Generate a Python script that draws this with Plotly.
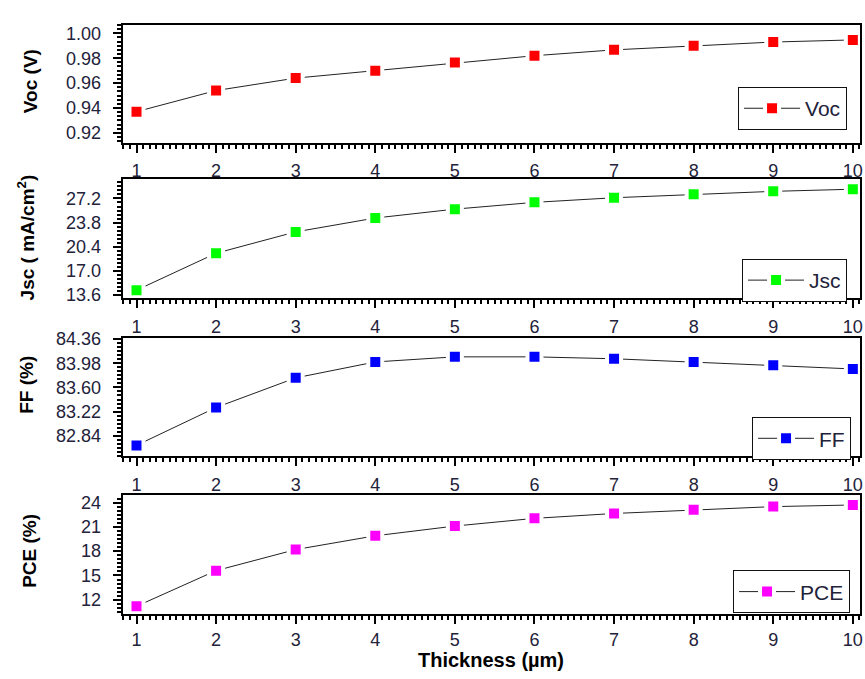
import plotly.graph_objects as go

# Device performance versus absorber thickness
thickness = [1, 2, 3, 4, 5, 6, 7, 8, 9, 10]
voc = [0.937, 0.954, 0.964, 0.970, 0.9765, 0.982, 0.9867, 0.990, 0.993, 0.9947]
jsc = [14.3, 19.5, 22.5, 24.45, 25.7, 26.65, 27.3, 27.8, 28.2, 28.5]
ff = [82.69, 83.285, 83.75, 84.00, 84.08, 84.08, 84.05, 84.00, 83.95, 83.89]
pce = [11.2, 15.6, 18.2, 19.9, 21.1, 22.05, 22.65, 23.1, 23.5, 23.7]

series_names = ["Voc", "Jsc", "FF", "PCE"]
series_values = [voc, jsc, ff, pce]
series_colors = ["#ff0000", "#00ff00", "#0000ff", "#ff00ff"]
y_titles = ["Voc (V)", "Jsc ( mA/cm<sup>2</sup>)", "FF (%)", "PCE (%)"]

# tick definitions per panel: (tick0, dtick, format, range)
y_ticks = [
    (0.92, 0.02, ".2f", [0.912, 1.007]),
    (13.6, 3.4, ".1f", [13.2, 29.95]),
    (82.84, 0.38, ".2f", [82.52, 84.375]),
    (12, 3, "d", [10.2, 24.9]),
]

W, H = 865, 679
x_px = (123, 863)
panel_px = [(16, 137), (174, 296), (337, 458), (498, 620)]
legend_px = [(850, 80), (850, 256), (854, 418), (853, 575)]
ytitle_px = [(30, 74), (27, 234), (27, 385), (30, 555)]

FONT = "Liberation Sans, Arial, sans-serif"
TICK_COLOR = "#22223a"

fig = go.Figure()
layout = dict(
    width=W, height=H,
    margin=dict(l=0, r=0, t=0, b=0),
    paper_bgcolor="white", plot_bgcolor="white",
    font=dict(family=FONT, color=TICK_COLOR),
    showlegend=True,
    annotations=[],
)

for i, (name, vals, col) in enumerate(zip(series_names, series_values, series_colors)):
    n = "" if i == 0 else str(i + 1)
    leg = "legend" + n
    fig.add_trace(go.Scatter(
        x=thickness, y=vals, name=name,
        mode="lines+markers",
        line=dict(color="#222222", width=1),
        marker=dict(symbol="square", size=14, color=col,
                    line=dict(color="white", width=4)),
        xaxis="x" + n, yaxis="y" + n, legend=leg, showlegend=True,
    ))
    top, bot = panel_px[i]
    dom_y = [1 - bot / H, 1 - top / H]
    axis_common = dict(
        showline=True, linecolor="black", linewidth=2, mirror=True,
        ticks="outside", ticklen=8, tickwidth=2, tickcolor="black",
        showgrid=False, zeroline=False,
        tickfont=dict(family=FONT, size=18, color=TICK_COLOR),
        ticklabeloverflow="allow",
    )
    layout["xaxis" + n] = dict(
        domain=[x_px[0] / W, x_px[1] / W],
        anchor="y" + n,
        range=[0.825, 10.09],
        tick0=1, dtick=1,
        ticklabelstandoff=3 if i < 3 else 0,
        minor=dict(dtick=1 / 12, ticks="outside", ticklen=4, tickwidth=1.5,
                   tickcolor="black", showgrid=False),
        **axis_common,
    )
    t0, dt, fmt, rng = y_ticks[i]
    layout["yaxis" + n] = dict(
        domain=dom_y,
        anchor="x" + n,
        range=rng,
        tick0=t0, dtick=dt, tickformat=fmt,
        ticklabelstandoff=8,
        minor=dict(dtick=dt / 6, ticks="outside", ticklen=4, tickwidth=1.5,
                   tickcolor="black", showgrid=False),
        **axis_common,
    )
    lx, ly = legend_px[i]
    layout[leg] = dict(
        x=lx / W, y=1 - ly / H, xanchor="right", yanchor="top",
        xref="paper", yref="paper",
        bordercolor="#111111", borderwidth=1, bgcolor="white",
        font=dict(family=FONT, size=21, color=TICK_COLOR),
        itemwidth=56, tracegroupgap=0,
    )
    tx, ty = ytitle_px[i]
    layout["annotations"].append(dict(
        text="<b>" + y_titles[i] + "</b>",
        x=tx / W, y=1 - ty / H, xref="paper", yref="paper",
        xanchor="center", yanchor="middle", textangle=-90, showarrow=False,
        font=dict(family=FONT, size=19, color="black"),
    ))

layout["annotations"].append(dict(
    text="<b>Thickness (µm)</b>",
    x=(x_px[0] + x_px[1]) / 2 / W, y=0, xref="paper", yref="paper",
    xanchor="center", yanchor="bottom", showarrow=False, borderpad=0,
    font=dict(family=FONT, size=20, color="black"),
))

fig.update_layout(**layout)
fig.write_html("out.html")
